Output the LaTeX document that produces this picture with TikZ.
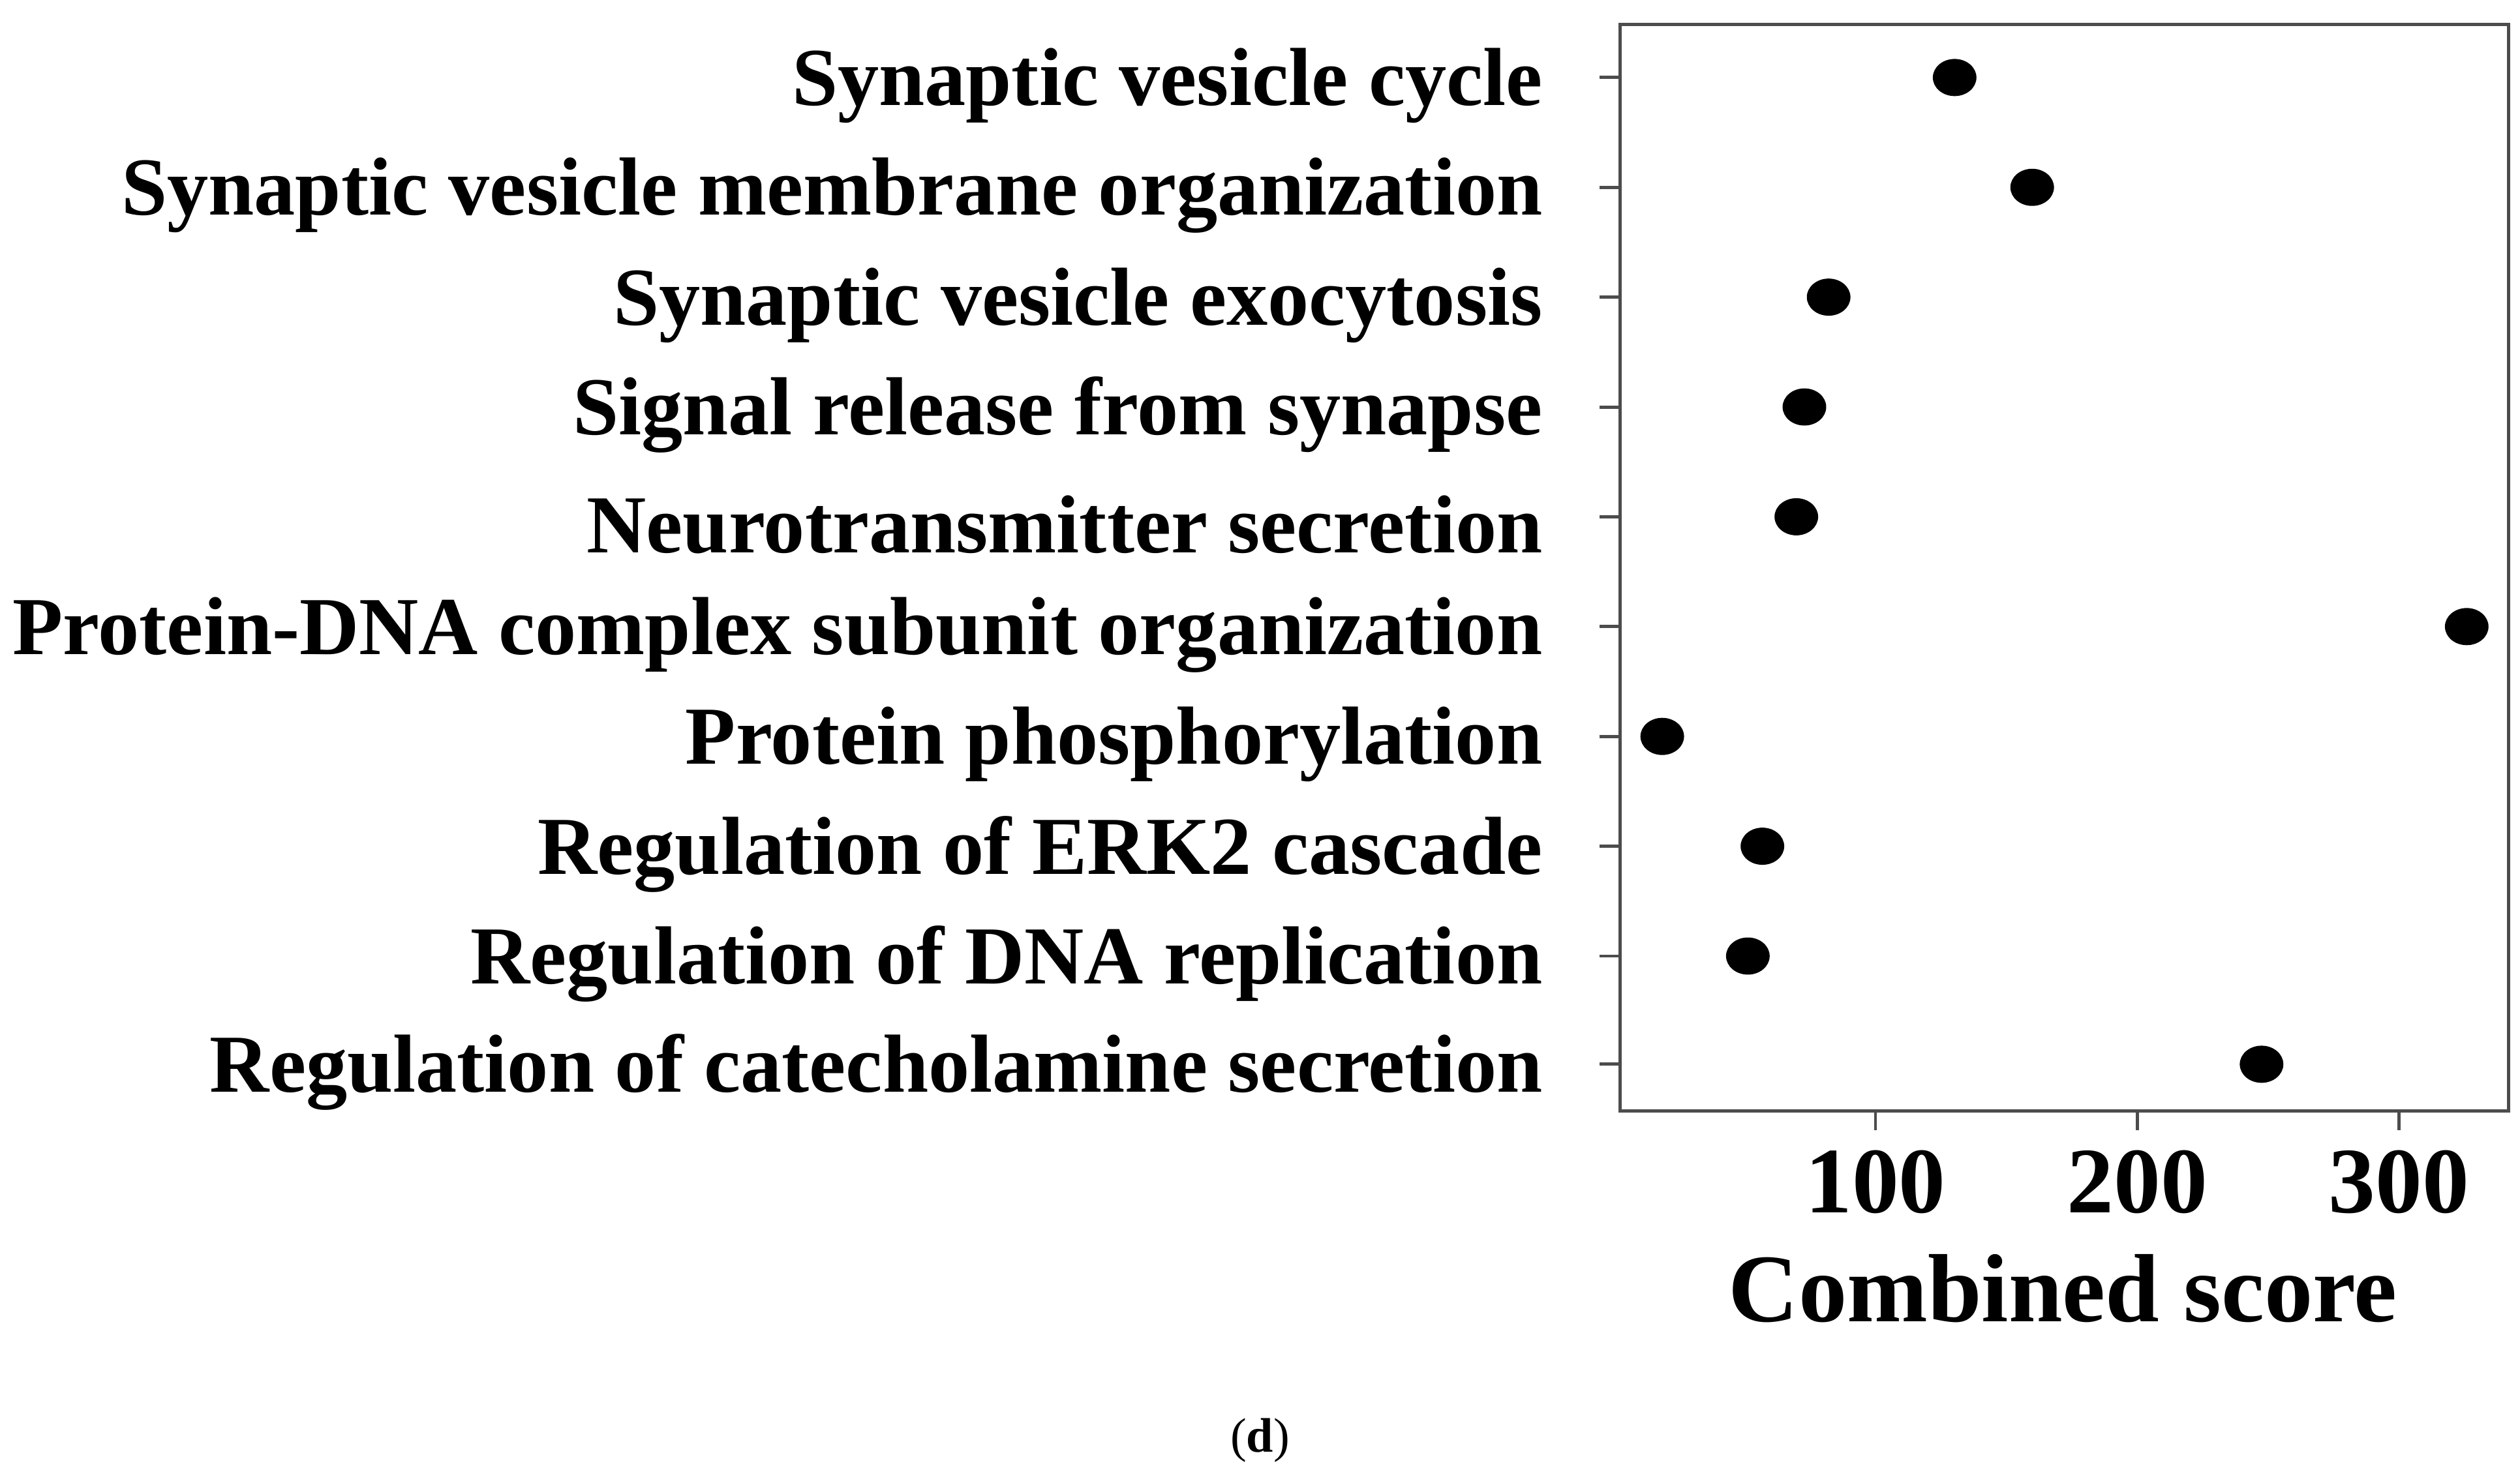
\documentclass[tikz,border=0pt]{standalone}
\usepackage{fontspec}
\usetikzlibrary{shapes.geometric}
\setmainfont{Liberation Serif}
\begin{document}
\begin{tikzpicture}[x=1pt,y=-1pt,
 lab/.style={anchor=east,font=\fontsize{51}{55}\selectfont\bfseries,inner sep=0pt},
 tk/.style={anchor=north,font=\fontsize{58}{62}\selectfont\bfseries,inner sep=0pt},
 dot/.style={ellipse,fill=black,minimum width=27pt,minimum height=23pt,inner sep=0pt}]
\useasboundingbox (0,0) rectangle (1560,918);
\draw[line width=2pt,draw=black!70] (1003,15) rectangle (1553,688);
\foreach \y/\t [count=\i] in {48/Synaptic vesicle cycle,116/Synaptic vesicle membrane organization,184/Synaptic vesicle exocytosis,252/Signal release from synapse,320/Neurotransmitter secretion,388/Protein-DNA complex subunit organization,456/Protein phosphorylation,524/Regulation of ERK2 cascade,592/Regulation of DNA replication,659/Regulation of catecholamine secretion}{
 \node[lab] (l\i) at (955,\y+5) {\t};
 \draw[line width=2pt,draw=black!70] (990,\y) -- (1003,\y);
}
\foreach \x/\y [count=\i] in {1210/48,1258/116,1132/184,1117/252,1112/320,1527/388,1029/456,1091/524,1082/592,1400/659}
 \node[dot] (d\i) at (\x,\y) {};
\foreach \x/\t [count=\i] in {1161/100,1323/200,1485/300}{
 \draw[line width=2pt,draw=black!70] (\x,688) -- (\x,700);
 \node[tk] (t\i) at (\x,712) {\t};
}
\node[font=\fontsize{60}{64}\selectfont\bfseries] (xl) at (1277,798) {Combined score};
\node[font=\fontsize{30}{34}\selectfont] (cap) at (780,892) {(\textbf{d})};
\end{tikzpicture}
\end{document}
